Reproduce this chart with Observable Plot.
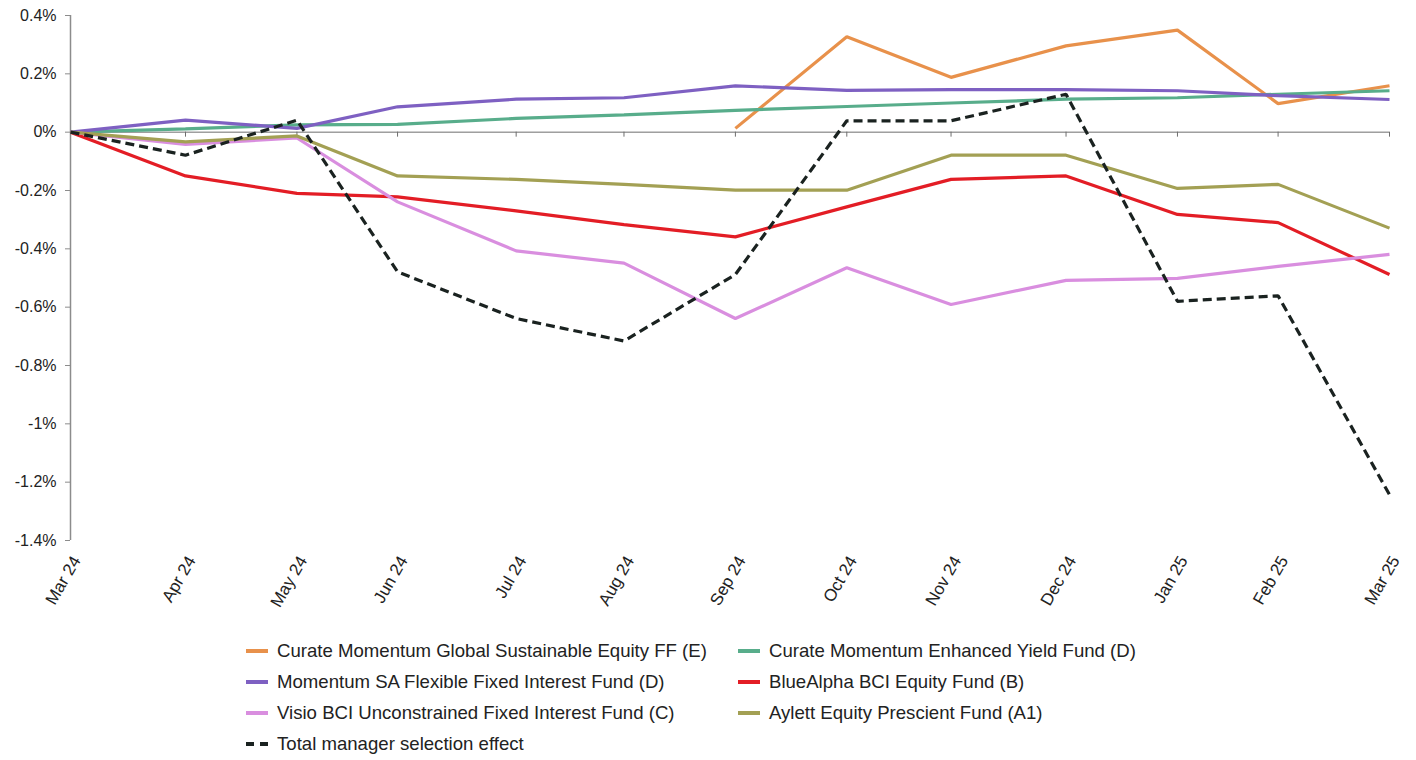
<!DOCTYPE html>
<html>
<head>
<meta charset="utf-8">
<script src="https://cdn.jsdelivr.net/npm/d3@7"></script>
<script src="https://cdn.jsdelivr.net/npm/@observablehq/plot@0.6"></script>
<style>
  html, body { margin: 0; padding: 0; background: #fff; }
  body { width: 1416px; height: 760px; position: relative; font-family: "Liberation Sans", Arial, sans-serif; color: #222; }
  #chart { position: absolute; left: 0; top: 0; }
  #legend { position: absolute; left: 246px; top: 635px; display: grid; grid-template-columns: 492px 440px; row-gap: 0; }
  .item { display: flex; align-items: center; height: 31px; font-size: 18.6px; color: #222; white-space: nowrap; }
  .sw { width: 22px; height: 0; border-top: 4px solid; margin-right: 9px; }
  .sw.dash { border-top-style: dashed; }
</style>
</head>
<body>
<div id="chart"></div>
<div id="legend"></div>
<script>
// ---- data ----
const dates = ["2024-03-29","2024-04-30","2024-05-31","2024-06-28","2024-07-31","2024-08-30","2024-09-30","2024-10-31","2024-11-29","2024-12-31","2025-01-31","2025-02-28","2025-03-31"];
const tickLabels = ["Mar 24","Apr 24","May 24","Jun 24","Jul 24","Aug 24","Sep 24","Oct 24","Nov 24","Dec 24","Jan 25","Feb 25","Mar 25"];
const yTicks = [0.4, 0.2, 0, -0.2, -0.4, -0.6, -0.8, -1.0, -1.2, -1.4];

const seriesNames = [
  "Curate Momentum Global Sustainable Equity FF (E)",
  "Curate Momentum Enhanced Yield Fund (D)",
  "Momentum SA Flexible Fixed Interest Fund (D)",
  "BlueAlpha BCI Equity Fund (B)",
  "Visio BCI Unconstrained Fixed Interest Fund (C)",
  "Aylett Equity Prescient Fund (A1)",
  "Total manager selection effect"
];
const curateGlobal   = [null, null, null, null, null, null, 0.013, 0.327, 0.188, 0.296, 0.350, 0.098, 0.159];
const curateYield    = [0, 0.011, 0.025, 0.027, 0.047, 0.059, 0.075, 0.088, 0.100, 0.113, 0.118, 0.130, 0.142];
const momentumFlex   = [0, 0.041, 0.013, 0.087, 0.113, 0.118, 0.159, 0.143, 0.146, 0.146, 0.142, 0.125, 0.112];
const blueAlpha      = [0, -0.150, -0.210, -0.222, -0.270, -0.317, -0.359, -0.256, -0.162, -0.150, -0.282, -0.310, -0.488];
const visio          = [0, -0.042, -0.020, -0.239, -0.407, -0.449, -0.639, -0.465, -0.591, -0.508, -0.501, -0.460, -0.419];
const aylett         = [0, -0.033, -0.013, -0.150, -0.162, -0.179, -0.199, -0.199, -0.079, -0.079, -0.193, -0.179, -0.329];
const totalEffect    = [0, -0.079, 0.041, -0.479, -0.639, -0.716, -0.488, 0.039, 0.039, 0.130, -0.580, -0.561, -1.243];
const seriesColors = ["#E8914B", "#58AD8B", "#7E60C2", "#E31D25", "#D98EDF", "#A3A054", "#1A2220"];

// ---- build ----
const dateValues = dates.map(d => new Date(d + "T00:00:00Z"));
const seriesValues = [curateGlobal, curateYield, momentumFlex, blueAlpha, visio, aylett, totalEffect];
const rows = [];
seriesValues.forEach((vals, s) => vals.forEach((v, i) => rows.push({series: seriesNames[s], date: dateValues[i], value: v})));

const fmtPct = d => (Math.round(d * 10) / 10) + "%";
const fmtDate = d => tickLabels[dateValues.findIndex(x => +x === +d)];

const marks = [
  Plot.ruleY([0], {stroke: "#6e6e6e", strokeWidth: 1}),
  Plot.ruleX(dateValues.slice(1), {x: d => d, y1: 0, y2: 0, insetBottom: -5, stroke: "#6e6e6e", strokeWidth: 1}),
  Plot.ruleX([dateValues[0]], {stroke: "#8c8c8c", strokeWidth: 1.5}),
  Plot.axisY({ticks: yTicks, tickFormat: fmtPct, tickSize: 5, tickPadding: 9, stroke: "#8c8c8c", fontSize: 16, fill: "#222", label: null}),
  Plot.axisX({ticks: dateValues, tickFormat: fmtDate, tickRotate: -60, tickSize: 0, tickPadding: 17, dx: 6, fontSize: 17, fill: "#222", label: null})
];
seriesNames.forEach((name, s) => {
  marks.push(Plot.line(rows.filter(r => r.series === name), {
    x: "date", y: "value",
    stroke: seriesColors[s],
    strokeWidth: 3.2,
    strokeDasharray: s === 6 ? "9,5" : null,
    strokeLinejoin: "miter",
    strokeLinecap: "butt"
  }));
});

const chart = Plot.plot({
  width: 1416,
  height: 625,
  marginLeft: 70,
  marginRight: 27,
  marginTop: 15,
  marginBottom: 85,
  style: {fontFamily: "'Liberation Sans', Arial, sans-serif", fontSize: "16px", color: "#222", background: "#fff"},
  x: {type: "utc", domain: [dateValues[0], dateValues[dateValues.length - 1]]},
  y: {domain: [-1.4, 0.4]},
  marks
});
document.getElementById("chart").appendChild(chart);

// ---- legend ----
const legend = document.getElementById("legend");
seriesNames.forEach((name, s) => {
  const item = document.createElement("div");
  item.className = "item";
  const sw = document.createElement("span");
  sw.className = "sw" + (s === 6 ? " dash" : "");
  sw.style.borderTopColor = seriesColors[s];
  const t = document.createElement("span");
  t.textContent = name;
  item.appendChild(sw);
  item.appendChild(t);
  legend.appendChild(item);
});
</script>
</body>
</html>
